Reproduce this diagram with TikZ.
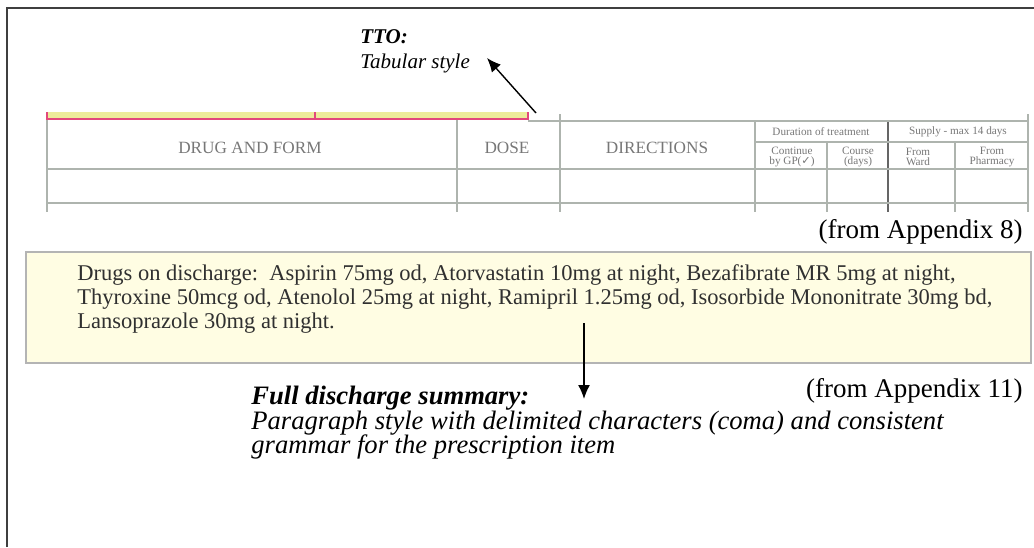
\documentclass[tikz,border=0pt]{standalone}
\usepackage{fontspec}
\setmainfont{Liberation Serif}
\newfontfamily\checkfont{DejaVu Sans}
\usetikzlibrary{positioning,arrows.meta}

\definecolor{framegray}{HTML}{3F3F3F}
\definecolor{scanyellow}{HTML}{FFFDE3}
\definecolor{scanborder}{HTML}{B4B4B4}
\definecolor{scantext}{HTML}{303030}
\definecolor{formline}{HTML}{AEB4AE}
\definecolor{formtext}{HTML}{777777}
\definecolor{redline}{HTML}{E2487C}
\definecolor{stripyellow}{HTML}{EDEC9A}

\newcommand\tightlines{\lineskiplimit=-20pt\relax\lineskip=0pt\relax}

\begin{document}
\begin{tikzpicture}[x=0.5pt,y=-0.5pt,
    formhead/.style={text=formtext, font=\fontsize{8.6}{9}\selectfont, inner sep=0pt},
    formsmall/.style={text=formtext, font=\fontsize{5.6}{5.2}\selectfont, inner sep=0pt, align=center},
    scanlines/.style={text=scantext, font=\fontsize{11.25}{12}\selectfont, inner sep=0pt, align=left, anchor=north west},
    remark/.style={font=\itshape, inner sep=0pt, align=left, anchor=north west},
    source/.style={font=\fontsize{13.5}{14}\selectfont, inner sep=0pt, anchor=east},
    pointer/.style={-{Latex[length=7pt,width=6pt]}, line width=0.7pt}]
    \useasboundingbox (0,0) rectangle (1034,547);
    % Draw the outer frame
    \draw[framegray, line width=1.1pt] (7,547) -- (7,8) -- (1034,8);
    % Draw the top strip of the form
    \fill[stripyellow] (47,112) rectangle (528,118);
    \draw[redline, line width=1pt] (47,119) -- (528,119);
    \draw[redline, line width=0.6pt] (47,112) -- (47,121);
    \draw[redline, line width=0.6pt] (315,112) -- (315,120);
    \draw[redline, line width=0.6pt] (528,112) -- (528,120);
    % Draw the form lines
    \draw[formline, line width=0.6pt] (47,120) -- (47,212);
    \draw[formline, line width=0.6pt] (457,120) -- (457,212);
    \draw[formline, line width=0.6pt] (560,114) -- (560,212);
    \draw[formline, line width=0.6pt] (755,122) -- (755,212);
    \draw[formline, line width=0.6pt] (827,142) -- (827,212);
    \draw[formline, line width=0.6pt] (955,142) -- (955,212);
    \draw[formline, line width=0.6pt] (1028,114) -- (1028,212);
    \draw[framegray!80, line width=1pt] (888,122) -- (888,212);
    \draw[formline, line width=0.6pt] (528,121) -- (1028,121);
    \draw[formline, line width=0.6pt] (755,142) -- (1028,142);
    \draw[formline, line width=0.6pt] (47,169) -- (1028,169);
    \draw[formline, line width=0.6pt] (47,203) -- (1028,203);
    % Form headings
    \node[formhead] (drug) at (250,148) {DRUG AND FORM};
    \node[formhead] (dose) at (507,148) {DOSE};
    \node[formhead] (directions) at (657,148) {DIRECTIONS};
    \node[formsmall] (duration) at (821,132) {Duration of treatment};
    \node[formsmall] (supply) at (958,132) {Supply - max 14 days};
    \node[formsmall] (continue) at (792,157) {Continue\\by GP({\checkfont ✓})};
    \node[formsmall] (course) at (858,157) {Course\\(days)};
    \node[formsmall] (ward) at (918,157) {From\\Ward};
    \node[formsmall] (pharmacy) at (992,157) {From\\Pharmacy};
    \node[source] (app8) at (1023,232) {(from Appendix 8)};
    % The discharge paragraph
    \node[draw=scanborder, fill=scanyellow, line width=1pt, minimum width=502.5pt, minimum height=55.5pt, inner sep=0pt] (scan) at (528.5,307.5) {};
    \node[scanlines] (drugs) at (77,264) {Drugs on discharge:\ \ Aspirin 75mg od, Atorvastatin 10mg at night, Bezafibrate MR 5mg at night,\\
        Thyroxine 50mcg od, Atenolol 25mg at night, Ramipril 1.25mg od, Isosorbide Mononitrate 30mg bd,\\
        Lansoprazole 30mg at night.};
    \node[source] (app11) at (1023,391) {(from Appendix 11)};
    % Remarks
    \node[remark, font=\fontsize{10.5}{12.5}\selectfont\itshape] (tto) at (360,29) {\textbf{TTO:}\\Tabular style};
    \node[remark, font=\fontsize{13.3}{12.1}\selectfont\itshape\tightlines] (full) at (251,386) {\textbf{Full discharge summary:}\\
        Paragraph style with delimited characters (coma) and consistent\\
        grammar for the prescription item};
    % Arrows
    \coordinate (formcorner) at (536,113);
    \coordinate (ttotip) at (487,58);
    \coordinate (scanpoint) at (584,323);
    \coordinate (fulltip) at (584,399);
    \draw[pointer] (formcorner) -- (ttotip);
    \draw[pointer] (scanpoint) -- (fulltip);
\end{tikzpicture}
\end{document}
